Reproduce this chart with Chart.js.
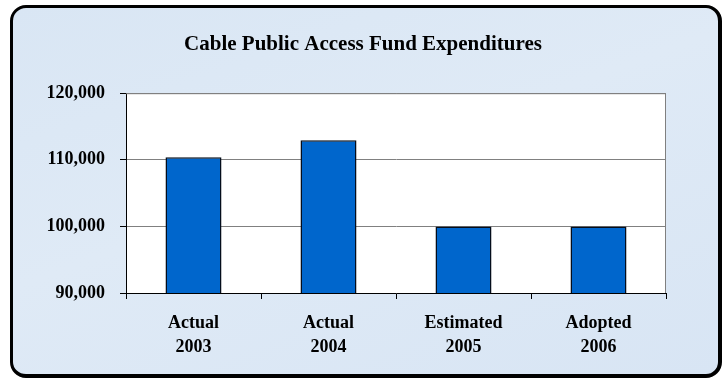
<!DOCTYPE html>
<html lang="en">
<head>
    <meta charset="UTF-8">
    <script src="https://cdn.jsdelivr.net/npm/chart.js@4/dist/chart.umd.min.js"></script>
    <style>
        html, body {
            margin: 0;
            padding: 0;
            background: #ffffff;
        }

        .frame {
            position: absolute;
            left: 10px;
            top: 5px;
            width: 705px;
            height: 366px;
            border: 3px solid #000;
            border-right-width: 4px;
            border-bottom-width: 4px;
            border-radius: 16px;
            background: linear-gradient(160deg, #d9e6f4 0%, #dfeaf6 45%, #d8e5f4 100%);
        }

        .chart-box {
            position: absolute;
            left: 0;
            top: 0;
            width: 726px;
            height: 379px;
        }
    </style>
    <title>Cable Public Access Fund Expenditures</title>
</head>
<body>
    <div class="frame"></div>
    <div class="chart-box">
        <canvas id="chartCanvas" width="726" height="379"></canvas>
    </div>

    <script>
        const categories = [['Actual', '2003'], ['Actual', '2004'], ['Estimated', '2005'], ['Adopted', '2006']];
        const expenditures = [110400, 112950, 100000, 100000];
        const yTicks = [90000, 100000, 110000, 120000];

        const serif = "'Liberation Serif', 'Times New Roman', serif";

        // white plot area plus the grey frame on top / right
        const plotFrame = {
            id: 'plotFrame',
            beforeDraw(chart) {
                const a = chart.chartArea;
                const ctx = chart.ctx;
                ctx.save();
                ctx.fillStyle = '#ffffff';
                ctx.fillRect(a.left, a.top, a.right - a.left, a.bottom - a.top);
                ctx.restore();
            },
            afterDraw(chart) {
                const a = chart.chartArea;
                const ctx = chart.ctx;
                ctx.save();
                ctx.strokeStyle = '#808080';
                ctx.lineWidth = 1;
                ctx.beginPath();
                ctx.moveTo(a.left, a.top + 0.5);
                ctx.lineTo(a.right - 0.5, a.top + 0.5);
                ctx.lineTo(a.right - 0.5, a.bottom);
                ctx.stroke();
                ctx.restore();
            }
        };

        const ctx = document.getElementById('chartCanvas').getContext('2d');
        new Chart(ctx, {
            type: 'bar',
            data: {
                labels: categories,
                datasets: [{
                    data: expenditures,
                    backgroundColor: '#0066cc',
                    borderColor: '#050d1a',
                    borderWidth: 1.5,
                    borderSkipped: false,
                    categoryPercentage: 1,
                    barPercentage: 0.415
                }]
            },
            options: {
                responsive: false,
                animation: false,
                layout: {
                    padding: 0
                },
                plugins: {
                    legend: { display: false },
                    tooltip: { enabled: false },
                    title: {
                        display: true,
                        text: 'Cable Public Access Fund Expenditures',
                        color: '#000',
                        font: { family: serif, size: 21, weight: 'bold', lineHeight: 1.2 },
                        padding: { top: 32, bottom: 36 }
                    }
                },
                scales: {
                    x: {
                        afterFit: (scale) => { scale.height = 86; },
                        grid: {
                            display: true,
                            offset: true,
                            drawOnChartArea: false,
                            drawTicks: true,
                            tickLength: 6,
                            tickColor: '#000'
                        },
                        border: { color: '#000', width: 1 },
                        ticks: {
                            color: '#000',
                            padding: 13,
                            maxRotation: 0,
                            font: { family: serif, size: 18, weight: 'bold', lineHeight: 1.3 }
                        }
                    },
                    y: {
                        min: yTicks[0],
                        max: yTicks[yTicks.length - 1],
                        afterFit: (scale) => { scale.width = 126; },
                        afterBuildTicks: (scale) => {
                            scale.ticks = yTicks.map(v => ({ value: v }));
                        },
                        grid: {
                            color: '#808080',
                            tickLength: 6,
                            tickColor: '#000'
                        },
                        border: { color: '#000', width: 1 },
                        ticks: {
                            color: '#000',
                            padding: 15,
                            font: { family: serif, size: 18, weight: 'bold' },
                            callback: (v) => v.toLocaleString('en-US')
                        }
                    },
                    // empty right-hand strip so the title stays centred on the whole frame
                    spacer: {
                        position: 'right',
                        display: true,
                        afterFit: (scale) => { scale.width = 60; },
                        grid: { drawOnChartArea: false, drawTicks: false },
                        border: { display: false },
                        ticks: { display: false }
                    }
                }
            },
            plugins: [plotFrame]
        });
    </script>
</body>
</html>
